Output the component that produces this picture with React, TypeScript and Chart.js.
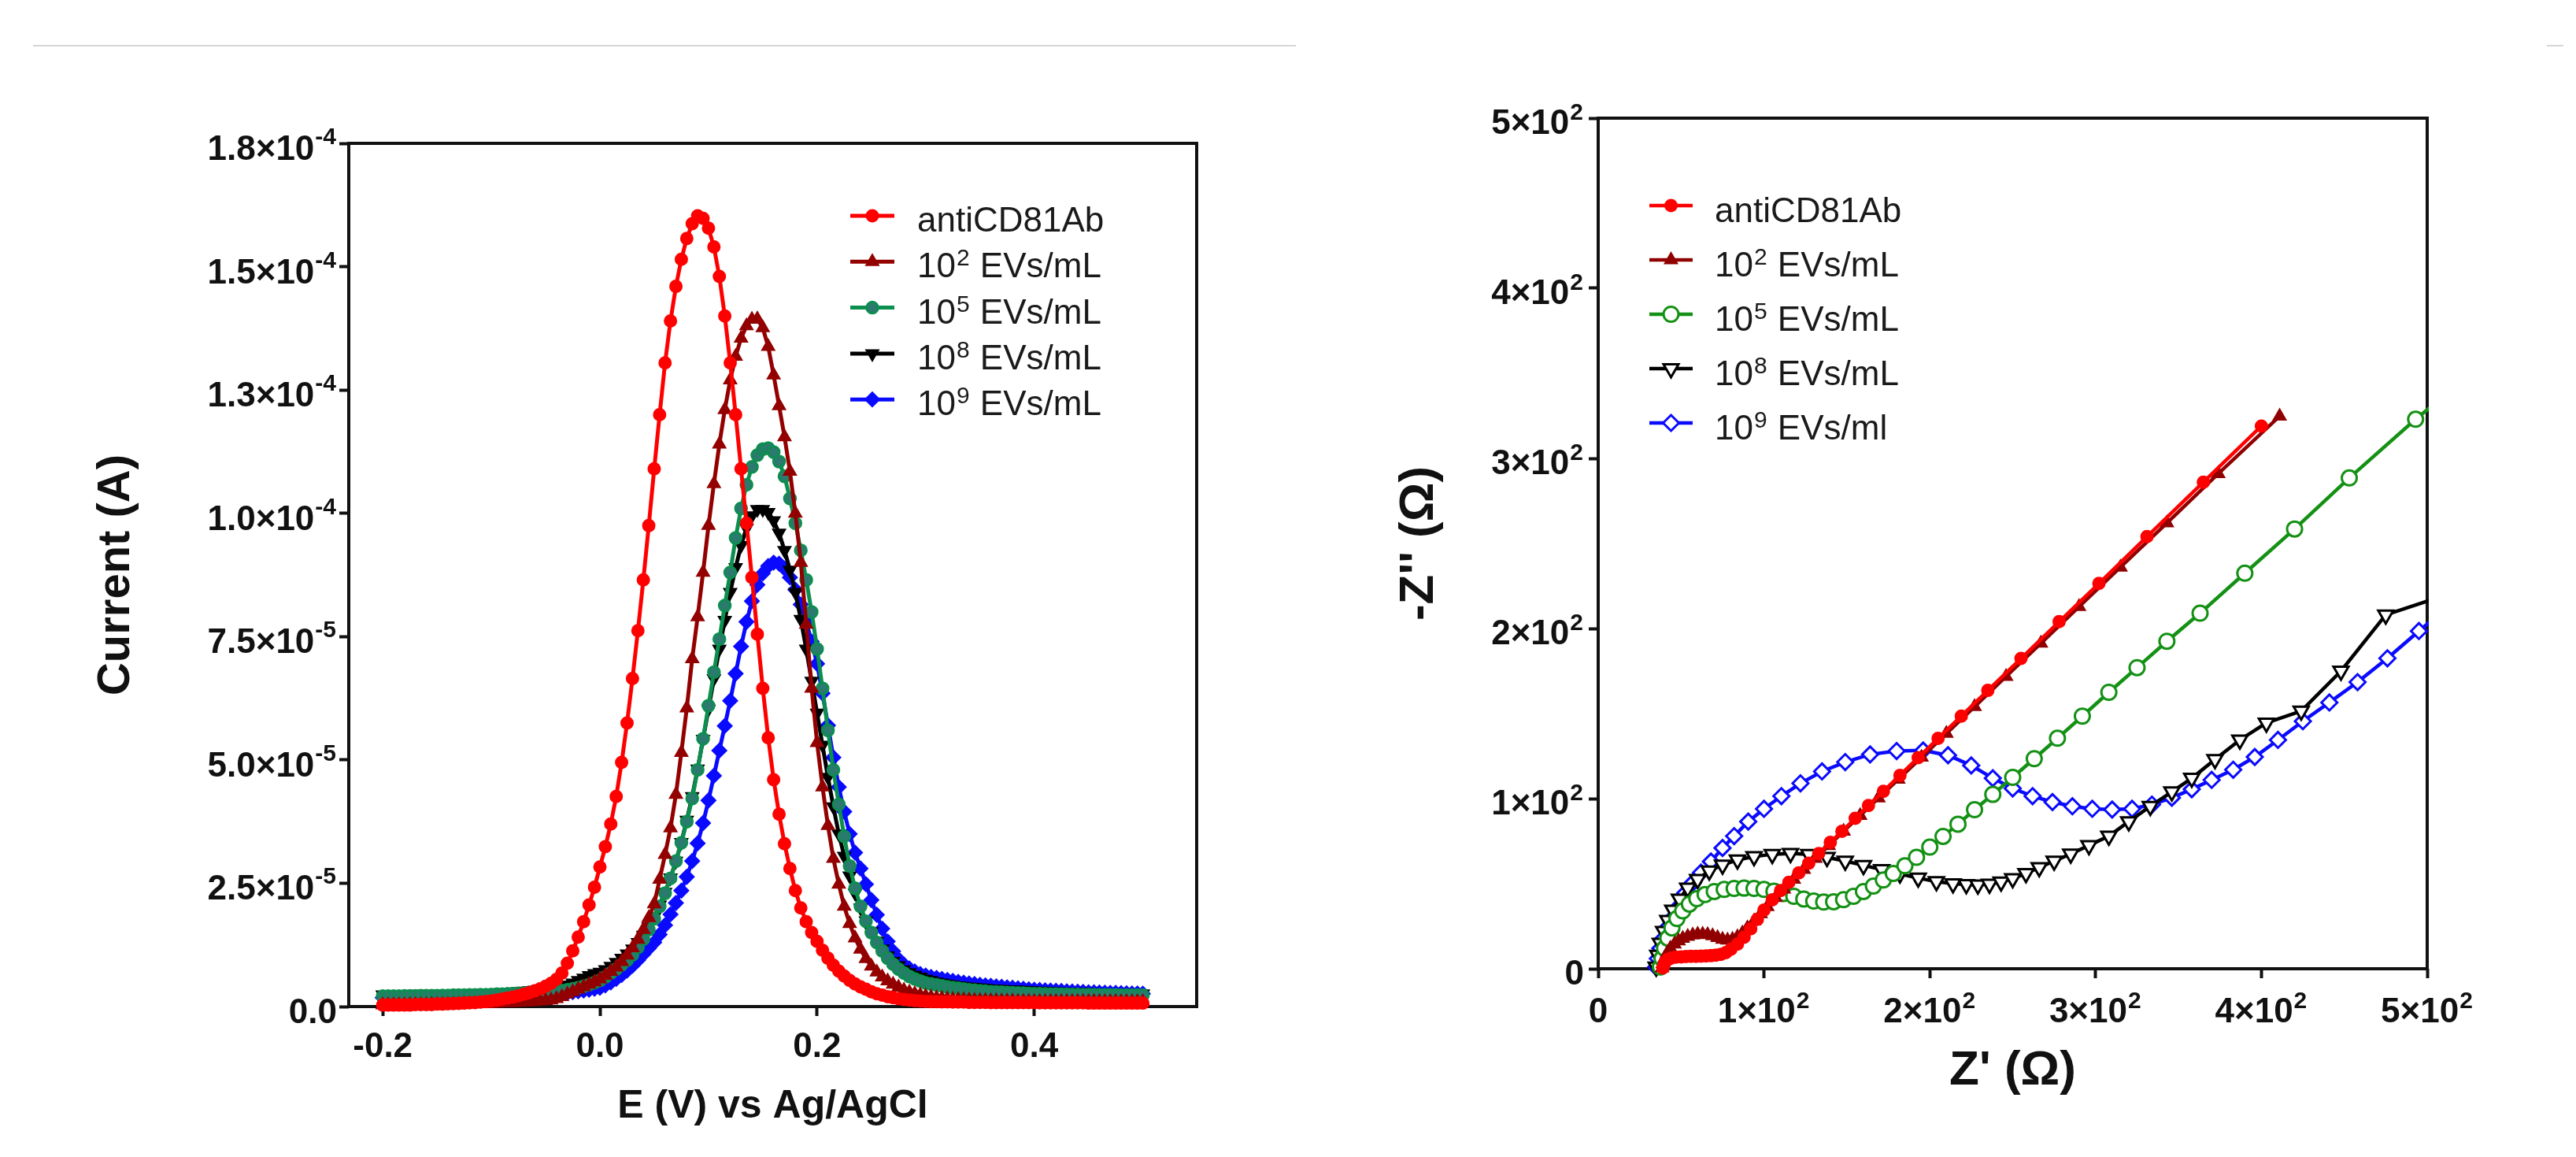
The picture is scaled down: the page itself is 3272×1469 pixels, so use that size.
import { useEffect, useRef } from 'react';
import { Chart, registerables } from 'chart.js';
import { drawPoint } from 'chart.js/helpers';

Chart.register(...registerables);

const FONT = '"Liberation Sans", Arial, sans-serif';

// ---------- DPV (left): potential grid, V ----------
const E_V = [
  -0.200, -0.195, -0.190, -0.185, -0.180, -0.175, -0.170, -0.165, -0.160, -0.155,
  -0.150, -0.145, -0.140, -0.135, -0.130, -0.125, -0.120, -0.115, -0.110, -0.105,
  -0.100, -0.095, -0.090, -0.085, -0.080, -0.075, -0.070, -0.065, -0.060, -0.055,
  -0.050, -0.045, -0.040, -0.035, -0.030, -0.025, -0.020, -0.015, -0.010, -0.005,
  0.000, 0.005, 0.010, 0.015, 0.020, 0.025, 0.030, 0.035, 0.040, 0.045,
  0.050, 0.055, 0.060, 0.065, 0.070, 0.075, 0.080, 0.085, 0.090, 0.095,
  0.100, 0.105, 0.110, 0.115, 0.120, 0.125, 0.130, 0.135, 0.140, 0.145,
  0.150, 0.155, 0.160, 0.165, 0.170, 0.175, 0.180, 0.185, 0.190, 0.195,
  0.200, 0.205, 0.210, 0.215, 0.220, 0.225, 0.230, 0.235, 0.240, 0.245,
  0.250, 0.255, 0.260, 0.265, 0.270, 0.275, 0.280, 0.285, 0.290, 0.295,
  0.300, 0.305, 0.310, 0.315, 0.320, 0.325, 0.330, 0.335, 0.340, 0.345,
  0.350, 0.355, 0.360, 0.365, 0.370, 0.375, 0.380, 0.385, 0.390, 0.395,
  0.400, 0.405, 0.410, 0.415, 0.420, 0.425, 0.430, 0.435, 0.440, 0.445,
  0.450, 0.455, 0.460, 0.465, 0.470, 0.475, 0.480, 0.485, 0.490, 0.495,
  0.500,
];

// currents in µA (axis labelled in A)
const I_ANTICD81 = [
  0.3, 0.3, 0.3, 0.3, 0.3, 0.3, 0.4, 0.4, 0.4, 0.4,
  0.5, 0.5, 0.55, 0.6, 0.65, 0.7, 0.75, 0.8, 0.9, 1.0,
  1.1, 1.3, 1.5, 1.7, 1.9, 2.2, 2.5, 2.8, 3.2, 3.6,
  4.1, 4.7, 5.5, 6.8, 8.8, 11.3, 14.1, 17.2, 20.6, 24.2,
  28.3, 32.4, 37.0, 42.6, 49.5, 57.5, 66.5, 76.2, 86.5, 97.5,
  109.0, 120.0, 130.5, 139.0, 146.0, 151.5, 155.7, 158.7, 160.3, 159.8,
  157.8, 154.0, 148.0, 140.0, 130.5, 120.0, 109.0, 98.0, 87.0, 75.5,
  64.5, 54.5, 46.0, 39.0, 33.0, 28.0, 23.5, 20.0, 17.2, 15.0,
  13.2, 11.4, 9.8, 8.4, 7.2, 6.2, 5.3, 4.6, 4.0, 3.5,
  3.0, 2.6, 2.3, 2.0, 1.8, 1.6, 1.45, 1.3, 1.2, 1.1,
  1.05, 1.0, 1.0, 0.95, 0.95, 0.9, 0.9, 0.9, 0.85, 0.85,
  0.85, 0.85, 0.8, 0.8, 0.8, 0.8, 0.8, 0.8, 0.8, 0.8,
  0.8, 0.75, 0.75, 0.75, 0.75, 0.75, 0.75, 0.75, 0.75, 0.75,
  0.7, 0.7, 0.7, 0.7, 0.7, 0.7, 0.7, 0.7, 0.7, 0.7,
  0.7,
];
const I_EV1E2 = [
  0.3, 0.3, 0.3, 0.3, 0.3, 0.35, 0.35, 0.35, 0.35, 0.4,
  0.4, 0.4, 0.4, 0.45, 0.45, 0.5, 0.5, 0.5, 0.55, 0.55,
  0.6, 0.65, 0.7, 0.75, 0.8, 0.85, 0.9, 0.95, 1.0, 1.1,
  1.2, 1.3, 1.6, 2.0, 2.5, 3.0, 3.5, 4.0, 4.5, 5.0,
  5.6, 6.3, 7.1, 8.0, 9.1, 10.4, 11.9, 13.6, 15.6, 18.0,
  20.8, 25.8, 30.8, 36.2, 43.0, 51.5, 60.5, 70.5, 79.0, 88.0,
  97.5, 106.0, 114.0, 121.0, 127.0, 131.8, 135.5, 138.0, 139.3, 139.4,
  137.6, 133.8, 128.0, 121.8, 115.5, 108.5, 100.0, 90.0, 77.5, 64.5,
  53.5, 44.5, 36.7, 30.0, 24.8, 20.3, 16.8, 13.9, 11.6, 9.7,
  8.2, 7.0, 6.0, 5.2, 4.5, 3.9, 3.3, 2.9, 2.6, 2.3,
  2.1, 1.9, 1.75, 1.65, 1.55, 1.45, 1.4, 1.35, 1.3, 1.25,
  1.2, 1.2, 1.15, 1.15, 1.1, 1.1, 1.1, 1.05, 1.05, 1.05,
  1.0, 1.0, 1.0, 1.0, 1.0, 1.0, 1.0, 1.0, 1.0, 1.0,
  1.0, 1.0, 1.0, 0.95, 0.95, 0.95, 0.95, 0.95, 0.95, 0.95,
  0.95,
];
const I_EV1E5 = [
  2.1, 2.1, 2.1, 2.1, 2.15, 2.15, 2.15, 2.2, 2.2, 2.2,
  2.2, 2.25, 2.25, 2.3, 2.3, 2.3, 2.35, 2.35, 2.4, 2.4,
  2.45, 2.5, 2.5, 2.55, 2.6, 2.65, 2.7, 2.75, 2.8, 2.85,
  2.9, 3.0, 3.1, 3.25, 3.4, 3.6, 3.85, 4.1, 4.45, 4.85,
  5.3, 6.0, 6.8, 7.6, 8.5, 9.4, 10.5, 12.0, 13.7, 15.6,
  17.8, 20.3, 23.0, 26.0, 29.5, 33.2, 37.5, 42.2, 48.0, 54.3,
  61.0, 67.8, 74.5, 81.3, 88.0, 95.0, 101.0, 105.8, 109.4, 111.8,
  113.0, 113.2, 112.4, 110.5, 107.5, 103.0, 98.0, 92.5, 86.5, 80.0,
  72.5, 64.5, 56.0, 48.0, 41.0, 34.5, 28.5, 24.0, 20.3, 17.3,
  15.0, 13.0, 11.3, 9.8, 8.6, 7.6, 6.8, 6.1, 5.6, 5.2,
  4.8, 4.6, 4.4, 4.2, 4.0, 3.85, 3.7, 3.55, 3.4, 3.3,
  3.2, 3.1, 3.0, 2.95, 2.9, 2.85, 2.8, 2.75, 2.7, 2.65,
  2.6, 2.58, 2.55, 2.53, 2.5, 2.48, 2.46, 2.44, 2.42, 2.4,
  2.4, 2.38, 2.37, 2.36, 2.35, 2.34, 2.33, 2.32, 2.31, 2.3,
  2.3,
];
const I_EV1E8 = [
  2.4, 2.4, 2.4, 2.45, 2.45, 2.45, 2.5, 2.5, 2.5, 2.5,
  2.55, 2.55, 2.55, 2.6, 2.6, 2.6, 2.65, 2.65, 2.7, 2.7,
  2.75, 2.8, 2.85, 2.9, 3.0, 3.05, 3.15, 3.25, 3.35, 3.45,
  3.55, 3.7, 3.9, 4.1, 4.4, 4.8, 5.3, 5.8, 6.3, 6.7,
  7.0, 7.5, 8.2, 9.0, 9.8, 10.7, 11.7, 13.0, 14.5, 16.2,
  18.2, 20.6, 23.2, 26.1, 29.5, 33.3, 37.8, 42.6, 48.2, 54.2,
  60.3, 66.5, 72.5, 78.3, 84.0, 89.0, 93.5, 97.0, 99.5, 100.8,
  100.8, 100.2, 98.5, 96.0, 92.5, 88.5, 84.0, 78.5, 72.5, 66.0,
  59.5, 53.0, 46.5, 40.5, 35.0, 30.5, 26.5, 23.0, 20.0, 17.4,
  15.2, 13.3, 11.7, 10.3, 9.2, 8.3, 7.5, 6.9, 6.4, 6.0,
  5.6, 5.3, 5.0, 4.8, 4.6, 4.4, 4.25, 4.1, 4.0, 3.9,
  3.8, 3.7, 3.6, 3.55, 3.5, 3.45, 3.4, 3.35, 3.3, 3.25,
  3.2, 3.15, 3.1, 3.05, 3.0, 2.98, 2.95, 2.92, 2.9, 2.88,
  2.85, 2.82, 2.8, 2.77, 2.75, 2.72, 2.7, 2.67, 2.65, 2.62,
  2.6,
];
const I_EV1E9 = [
  1.8, 1.8, 1.8, 1.8, 1.8, 1.85, 1.85, 1.85, 1.85, 1.85,
  1.9, 1.9, 1.9, 1.9, 1.9, 1.95, 1.95, 1.95, 1.95, 2.0,
  2.0, 2.0, 2.05, 2.05, 2.1, 2.1, 2.15, 2.15, 2.2, 2.25,
  2.3, 2.4, 2.5, 2.65, 2.8, 2.95, 3.1, 3.25, 3.4, 3.6,
  3.8, 4.3, 4.9, 5.6, 6.4, 7.3, 8.3, 9.4, 10.6, 11.8,
  13.0, 14.6, 16.5, 18.7, 21.0, 23.5, 26.3, 29.5, 33.1, 37.2,
  41.8, 46.8, 51.9, 56.9, 62.0, 67.5, 73.0, 78.0, 82.2, 85.5,
  87.8, 89.3, 90.0, 89.8, 88.8, 87.0, 84.5, 81.5, 78.0, 74.0,
  69.5, 63.5, 57.0, 50.5, 44.5, 39.5, 35.0, 31.2, 28.0, 24.8,
  21.6, 18.6, 15.8, 13.2, 11.2, 9.6, 8.5, 7.7, 7.1, 6.6,
  6.3, 6.0, 5.8, 5.6, 5.4, 5.2, 5.0, 4.85, 4.7, 4.55,
  4.4, 4.3, 4.2, 4.1, 4.0, 3.9, 3.8, 3.7, 3.6, 3.5,
  3.4, 3.35, 3.3, 3.25, 3.2, 3.15, 3.1, 3.05, 3.0, 2.95,
  2.9, 2.87, 2.84, 2.81, 2.78, 2.75, 2.72, 2.69, 2.66, 2.63,
  2.6,
];

// "^" starts a superscript
const DPV_X_TICKS = [-0.2, 0.0, 0.2, 0.4];
const DPV_X_LABELS = ['-0.2', '0.0', '0.2', '0.4'];
const DPV_Y_TICKS = [0, 25, 50, 75, 100, 125, 150, 175];
const DPV_Y_LABELS = ['0.0', '2.5×10^-5', '5.0×10^-5', '7.5×10^-5', '1.0×10^-4', '1.3×10^-4', '1.5×10^-4', '1.8×10^-4'];
const DPV_NAMES = ['antiCD81Ab', '10^2 EVs/mL', '10^5 EVs/mL', '10^8 EVs/mL', '10^9 EVs/mL'];

// ---------- Nyquist (right): Z' and -Z'' in ohm ----------
const ZRE_ANTICD81 = [39, 39.5, 40.5, 42, 44, 47, 50, 53, 56, 59, 62, 65, 68, 71, 74, 77, 80, 84, 88, 92, 96, 100, 105, 110, 115, 121, 127, 133, 140, 147, 155, 163, 172, 182, 193, 205, 219, 235, 255, 278, 302, 331, 365, 400];
const ZIM_ANTICD81 = [0.5, 2.0, 4.0, 5.5, 6.3, 6.8, 7.0, 7.2, 7.3, 7.3, 7.4, 7.5, 7.7, 8.0, 8.5, 9.5, 11.5, 14.5, 18.5, 23.5, 29.0, 34.5, 40.5, 46.0, 50.8, 56.4, 62.0, 67.7, 74.3, 80.8, 88.4, 95.9, 104.3, 113.7, 124.1, 135.4, 148.5, 163.6, 182.4, 204.0, 226.5, 254.0, 286.0, 319.0];
const ZRE_EV1E2 = [38.5, 39, 40, 41.5, 43.5, 46, 48.5, 51, 54, 57, 60, 63, 66, 69, 72, 75, 78, 81, 84, 87, 90, 94, 98, 102, 107, 112, 118, 124, 131, 139, 148, 158, 169, 181, 195, 210, 227, 246, 267, 290, 315, 343, 374, 411];
const ZIM_EV1E2 = [0.5, 3.0, 6.0, 9.0, 12.0, 14.5, 16.3, 17.8, 19.0, 19.8, 20.2, 20.3, 20.0, 19.3, 18.3, 17.3, 16.8, 17.3, 18.8, 21.0, 24.0, 28.0, 32.3, 36.5, 41.8, 46.8, 52.5, 58.3, 64.8, 72.3, 80.8, 90.0, 100.3, 111.3, 124.3, 138.3, 154.0, 171.8, 191.3, 212.8, 236.0, 262.0, 291.0, 324.8];
const ZRE_EV1E5 = [37.5, 38.5, 40, 42, 44.5, 47.5, 51, 55, 59.5, 64.5, 70, 76, 82, 88, 94, 100, 106, 112, 118, 124, 130, 136, 142, 148, 154, 160, 166, 172, 178, 185, 192, 200, 208, 217, 227, 238, 250, 263, 277, 292, 308, 325, 343, 363, 390, 420, 453, 493, 512];
const ZIM_EV1E5 = [1, 6, 12, 18, 24, 29.5, 34, 38, 41.2, 43.6, 45.4, 46.6, 47.2, 47.4, 47.2, 46.6, 45.6, 44.2, 42.6, 41.0, 39.8, 39.2, 39.4, 40.6, 42.6, 45.4, 48.6, 52.2, 56.0, 60.5, 65.5, 71.5, 77.8, 85.0, 93.5, 102.5, 112.5, 123.5, 135.5, 148.5, 162.5, 177.0, 192.5, 209.0, 232.5, 258.5, 288.5, 323.0, 338.0];
const ZRE_EV1E8 = [35, 36, 37.5, 39.5, 42, 45, 49, 54, 60, 67, 75, 84, 94, 105, 116, 127, 138, 149, 160, 171, 182, 193, 204, 214, 222, 229, 236, 243, 250, 258, 266, 275, 285, 296, 308, 320, 333, 346, 358, 372, 387, 403, 424, 448, 475, 528];
const ZIM_EV1E8 = [1, 8, 15, 22, 28.5, 34.5, 41, 47.5, 52.5, 57.5, 61, 64, 66, 67.3, 67.8, 67.2, 65.5, 63.3, 60.8, 58.3, 55.8, 53.3, 51.3, 50, 49.5, 49.3, 49.8, 51, 53, 56, 59.5, 63.3, 67.5, 72.5, 78, 86.5, 95.5, 104, 112, 123, 134.5, 144.5, 151.5, 175, 208, 225];
const ZRE_EV1E9 = [35, 36, 37.5, 39.5, 42, 45, 48.5, 52.5, 57, 62, 68, 75, 82, 90.5, 100, 110.5, 122, 135, 149, 164, 180, 196, 211, 225, 238, 250, 262, 274, 286, 298, 310, 322, 334, 346, 358, 370, 383, 396, 410, 425, 441, 458, 476, 495, 515];
const ZIM_EV1E9 = [1, 6, 12, 18, 24.5, 30, 36.5, 44.5, 50.5, 56.5, 63, 71, 78, 86.5, 94, 101.5, 109, 116, 121.5, 126, 128, 128.3, 125.5, 119.5, 112, 106, 101.5, 98, 95.5, 94, 93.6, 94, 96.5, 100.5, 105.5, 111, 117, 124.5, 134.5, 145.5, 156.5, 168.5, 182.5, 198.5, 215];

const NY_TICKS = [0, 100, 200, 300, 400, 500];
const NY_LABELS = ['0', '1×10^2', '2×10^2', '3×10^2', '4×10^2', '5×10^2'];
const NY_NAMES = ['antiCD81Ab', '10^2 EVs/mL', '10^5 EVs/mL', '10^8 EVs/mL', '10^9 EVs/ml'];

interface Series { xs: number[]; ys: number[]; color: string; fill: string; style: string; rot: number; r: number; bw: number }
interface Axis { min: number; max: number; ticks: number[]; labels: string[]; title: string; titleSize: number; titlePad: number; size: number }
interface LegendOpts { x: number; y: number; gap: number; len: number; textX: number; base: number; names: string[] }
interface TickText { xLabels: string[]; yLabels: string[]; xBase: number; yGap: number; yBase: number; rise: number }

// draws "a^b c" with b as a raised, smaller run
function drawRich(ctx: CanvasRenderingContext2D, text: string, x: number, base: number, align: string,
  weight: string, size: number, supSize: number, rise: number) {
  const m = text.match(/^(.*?)\^(-?\d)(.*)$/);
  const parts = m ? [m[1], m[2], m[3]] : [text, '', ''];
  const fMain = `${weight} ${size}px ${FONT}`;
  const fSup = `${weight} ${supSize}px ${FONT}`;
  ctx.font = fMain;
  const w1 = ctx.measureText(parts[0]).width;
  const w3 = ctx.measureText(parts[2]).width;
  ctx.font = fSup;
  const w2 = parts[1] ? ctx.measureText(parts[1]).width + 2 : 0;
  const total = w1 + w2 + w3;
  let cx = align === 'right' ? x - total : align === 'center' ? x - total / 2 : x;
  ctx.textAlign = 'left';
  ctx.textBaseline = 'alphabetic';
  ctx.font = fMain; ctx.fillText(parts[0], cx, base); cx += w1;
  if (parts[1]) { ctx.font = fSup; ctx.fillText(parts[1], cx + 1, base - rise); cx += w2; }
  if (parts[2]) { ctx.font = fMain; ctx.fillText(parts[2], cx, base); }
}

const framePlugin = {
  id: 'frame',
  beforeDatasetsDraw(chart: any) {
    const { ctx, chartArea: a } = chart;
    ctx.save();
    ctx.strokeStyle = '#111';
    ctx.lineWidth = 4;
    ctx.strokeRect(a.left, a.top, a.right - a.left, a.bottom - a.top);
    ctx.restore();
  },
};

const richTicks = {
  id: 'richTicks',
  afterDraw(chart: any, _a: any, o: TickText) {
    const { ctx, chartArea: a, scales } = chart;
    ctx.save();
    ctx.fillStyle = '#111';
    scales.x.ticks.forEach((t: any, i: number) =>
      drawRich(ctx, o.xLabels[i], scales.x.getPixelForValue(t.value), a.bottom + o.xBase, 'center', 'bold', 44, 30, o.rise));
    scales.y.ticks.forEach((t: any, i: number) =>
      drawRich(ctx, o.yLabels[i], a.left - o.yGap, scales.y.getPixelForValue(t.value) + o.yBase, 'right', 'bold', 44, 30, o.rise));
    ctx.restore();
  },
};

const lineLegend = {
  id: 'lineLegend',
  afterDraw(chart: any, _a: any, o: LegendOpts) {
    const ctx = chart.ctx;
    ctx.save();
    chart.data.datasets.forEach((ds: any, i: number) => {
      const y = o.y + i * o.gap;
      ctx.strokeStyle = ds.borderColor;
      ctx.lineWidth = ds.borderWidth;
      ctx.beginPath(); ctx.moveTo(o.x, y); ctx.lineTo(o.x + o.len, y); ctx.stroke();
      ctx.fillStyle = ds.pointBackgroundColor;
      ctx.lineWidth = ds.pointBorderWidth;
      drawPoint(ctx, { pointStyle: ds.pointStyle, rotation: ds.pointRotation, radius: ds.pointRadius, borderWidth: ds.pointBorderWidth } as any, o.x + o.len / 2, y);
      ctx.fillStyle = '#1a1a1a';
      drawRich(ctx, o.names[i], o.textX, y + o.base, 'left', 'normal', 44, 30, 15);
    });
    ctx.restore();
  },
};

function scaleOpts(ax: Axis, horizontal: boolean) {
  return {
    type: 'linear', min: ax.min, max: ax.max,
    afterBuildTicks: (s: any) => { s.ticks = ax.ticks.map((value) => ({ value })); },
    afterFit: (s: any) => { if (horizontal) s.height = ax.size; else s.width = ax.size; },
    ticks: { display: false, autoSkip: false, maxRotation: 0 },
    grid: { display: true, drawOnChartArea: false, drawTicks: true, tickLength: 12, tickWidth: 4, tickColor: '#111' },
    border: { display: false },
    title: {
      display: true, text: ax.title, color: '#111',
      font: { family: FONT, size: ax.titleSize, weight: 'bold' },
      padding: horizontal ? { top: 0, bottom: ax.titlePad } : { top: ax.titlePad, bottom: 0 },
    },
  };
}

interface PanelProps {
  left: number; padTop: number; padRight: number; lineWidth: number;
  x: Axis; y: Axis; series: Series[]; legend: LegendOpts; tickText: TickText; clip: any;
}

function Panel({ left, padTop, padRight, lineWidth, x, y, series, legend, tickText, clip }: PanelProps) {
  const ref = useRef<HTMLCanvasElement>(null);
  useEffect(() => {
    if (!ref.current) return;
    const chart = new Chart(ref.current, {
      type: 'line',
      data: {
        datasets: series.map((s) => ({
          data: s.xs.map((v, i) => ({ x: v, y: s.ys[i] })),
          borderColor: s.color, backgroundColor: s.fill,
          pointBackgroundColor: s.fill, pointBorderColor: s.color,
          pointStyle: s.style, pointRotation: s.rot, pointRadius: s.r, pointBorderWidth: s.bw,
          borderWidth: lineWidth, tension: 0, fill: false, clip,
        })),
      },
      options: {
        animation: false, responsive: false, devicePixelRatio: 1, events: [],
        layout: { padding: { left: 0, top: padTop, right: padRight, bottom: 0 } },
        scales: { x: scaleOpts(x, true), y: scaleOpts(y, false) } as any,
        plugins: { legend: { display: false }, tooltip: { enabled: false }, lineLegend: legend, richTicks: tickText } as any,
      },
      plugins: [framePlugin, richTicks, lineLegend],
    });
    return () => chart.destroy();
  }, []);
  return (
    <canvas ref={ref} width={1636} height={1469}
      style={{ position: 'absolute', left, top: 0, width: 1636, height: 1469 }} />
  );
}

const DPV_SERIES: Series[] = [
  { xs: E_V, ys: I_ANTICD81, color: '#ff0000', fill: '#ff0000', style: 'circle', rot: 0, r: 7.5, bw: 2 },
  { xs: E_V, ys: I_EV1E2, color: '#930000', fill: '#930000', style: 'triangle', rot: 0, r: 9, bw: 2 },
  { xs: E_V, ys: I_EV1E5, color: '#0b8f4e', fill: '#2a7a6e', style: 'circle', rot: 0, r: 7.5, bw: 2.5 },
  { xs: E_V, ys: I_EV1E8, color: '#000000', fill: '#000000', style: 'triangle', rot: 180, r: 9, bw: 2 },
  { xs: E_V, ys: I_EV1E9, color: '#0a0aff', fill: '#0a0aff', style: 'rectRot', rot: 0, r: 9, bw: 2 },
];

const NY_SERIES: Series[] = [
  { xs: ZRE_ANTICD81, ys: ZIM_ANTICD81, color: '#ff0000', fill: '#ff0000', style: 'circle', rot: 0, r: 7.5, bw: 2 },
  { xs: ZRE_EV1E2, ys: ZIM_EV1E2, color: '#900000', fill: '#900000', style: 'triangle', rot: 0, r: 9, bw: 2 },
  { xs: ZRE_EV1E5, ys: ZIM_EV1E5, color: '#149114', fill: '#ffffff', style: 'circle', rot: 0, r: 9.5, bw: 3 },
  { xs: ZRE_EV1E8, ys: ZIM_EV1E8, color: '#000000', fill: '#ffffff', style: 'triangle', rot: 180, r: 11, bw: 3 },
  { xs: ZRE_EV1E9, ys: ZIM_EV1E9, color: '#0a0aff', fill: '#ffffff', style: 'rectRot', rot: 0, r: 10, bw: 3 },
];

export default function App() {
  return (
    <div style={{ position: 'absolute', left: 0, top: 0, width: 3272, height: 1469, background: '#fff', overflow: 'hidden' }}>
      <div style={{ position: 'absolute', left: 42, top: 57, width: 1604, height: 2, background: '#d6d6d6' }} />
      <div style={{ position: 'absolute', left: 3235, top: 57, width: 21, height: 2, background: '#d6d6d6' }} />
      <Panel
        left={0} padTop={182} padRight={116} lineWidth={5}
        x={{ min: -0.2313, max: 0.5496, ticks: DPV_X_TICKS, labels: DPV_X_LABELS, title: 'E (V) vs Ag/AgCl', titleSize: 50, titlePad: 34, size: 191 }}
        y={{ min: 0, max: 175, ticks: DPV_Y_TICKS, labels: DPV_Y_LABELS, title: 'Current (A)', titleSize: 58, titlePad: 113, size: 443 }}
        series={DPV_SERIES}
        legend={{ x: 1080, y: 274, gap: 58.3, len: 56, textX: 1165, base: 20, names: DPV_NAMES }}
        tickText={{ xLabels: DPV_X_LABELS, yLabels: DPV_Y_LABELS, xBase: 64, yGap: 15, yBase: 21, rise: 20 }}
        clip={false}
      />
      <Panel
        left={1636} padTop={150} padRight={189} lineWidth={4.5}
        x={{ min: 0, max: 500, ticks: NY_TICKS, labels: NY_LABELS, title: "Z' (Ω)", titleSize: 62, titlePad: 72, size: 239 }}
        y={{ min: 0, max: 500, ticks: NY_TICKS, labels: NY_LABELS, title: "-Z'' (Ω)", titleSize: 62, titlePad: 130, size: 394 }}
        series={NY_SERIES}
        legend={{ x: 459, y: 261, gap: 69, len: 55, textX: 542, base: 21, names: NY_NAMES }}
        tickText={{ xLabels: NY_LABELS, yLabels: NY_LABELS, xBase: 68, yGap: 18, yBase: 20, rise: 18 }}
        clip={{ left: 12, top: 12, right: 2, bottom: 12 }}
      />
    </div>
  );
}
